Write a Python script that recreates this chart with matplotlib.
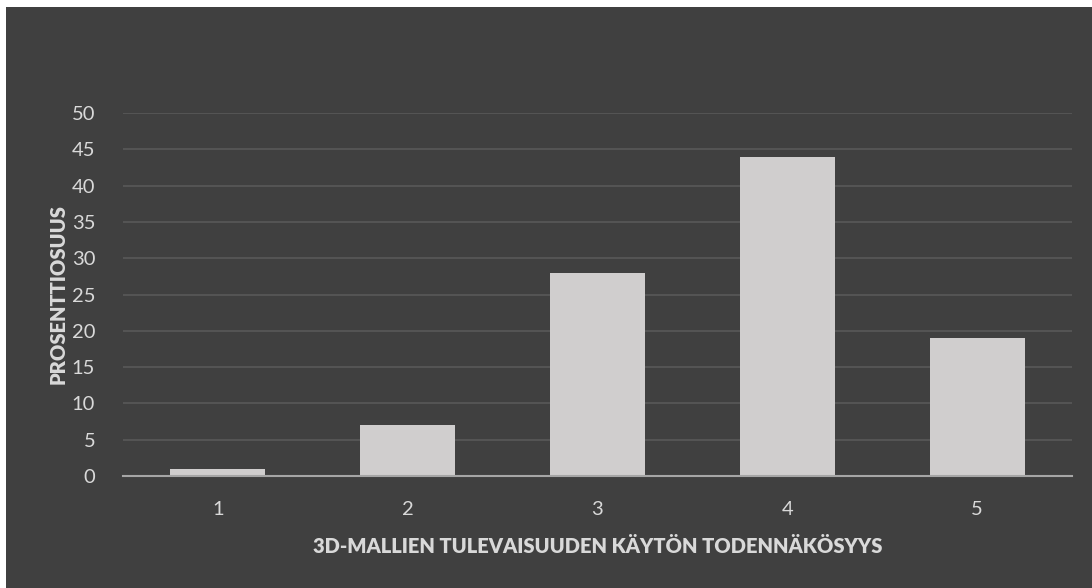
import matplotlib.pyplot as plt
from matplotlib.patches import Rectangle

# --- Data ---
categories = ['1', '2', '3', '4', '5']
percentages = [1, 7, 28, 44, 19]
y_ticks = list(range(0, 55, 5))

BG = '#404040'
BAR = '#d0cece'
TEXT = '#d9d9d9'
GRID = '#595959'

plt.rcParams['font.family'] = ['Lato', 'DejaVu Sans']

fig = plt.figure(figsize=(10.92, 5.88), dpi=100)
fig.patch.set_facecolor('white')
# dark chart area (small white margin top/left as in the source)
fig.patches.append(Rectangle((6 / 1092, 0), 1 - 6 / 1092, 1 - 7 / 588,
                             transform=fig.transFigure, facecolor=BG,
                             edgecolor='none', zorder=-10))

ax = fig.add_axes([123 / 1092, 1 - 476 / 588, 949 / 1092, 363 / 588])
ax.set_facecolor('none')

x = range(len(categories))
ax.bar(x, percentages, width=0.5, color=BAR, zorder=3)

ax.set_xlim(-0.5, len(categories) - 0.5)
ax.set_ylim(0, 50)
ax.set_yticks(y_ticks)
ax.set_xticks(list(x))
ax.set_xticklabels(categories)

ax.grid(axis='y', color=GRID, linewidth=1.2, zorder=0)
for s in ['top', 'right', 'left']:
    ax.spines[s].set_visible(False)
ax.spines['bottom'].set_color('#a6a6a6')
ax.spines['bottom'].set_linewidth(1.5)
ax.spines['bottom'].set_zorder(4)

ax.tick_params(axis='both', length=0, colors=TEXT, labelsize=14.5)
ax.tick_params(axis='x', pad=18)
ax.tick_params(axis='y', pad=20)

ax.set_xlabel('3D-MALLIEN TULEVAISUUDEN KÄYTÖN TODENNÄKÖSYYS',
              color=TEXT, fontsize=14.5, fontweight='heavy', labelpad=14)
ax.set_ylabel('PROSENTTIOSUUS', color=TEXT, fontsize=14.5,
              fontweight='heavy', labelpad=3)

fig.savefig('out.png', dpi=100, facecolor=fig.get_facecolor())
